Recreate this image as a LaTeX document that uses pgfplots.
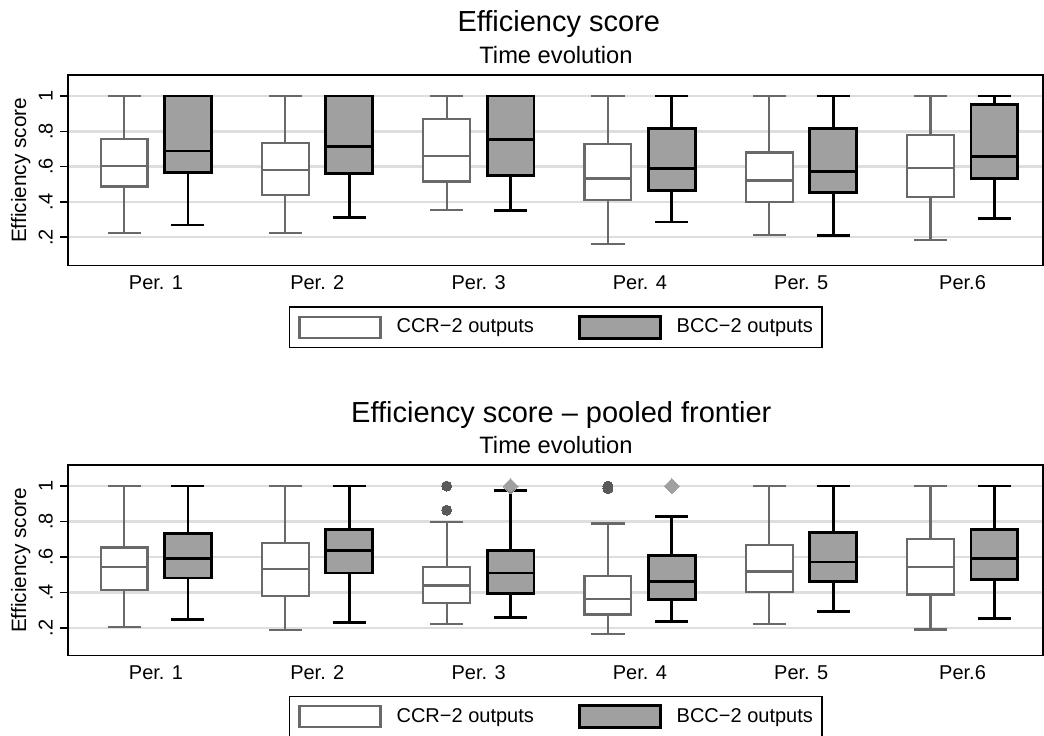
\documentclass[border=0pt]{standalone}
\usepackage{fontspec}
\setmainfont{Liberation Sans}
\usepackage{pgfplots}
\pgfplotsset{compat=1.18}
\usepgfplotslibrary{statistics}
\definecolor{ccrline}{RGB}{105,105,105}
\definecolor{bccfill}{RGB}{160,160,160}
\definecolor{gridc}{RGB}{222,222,222}
\definecolor{outc}{RGB}{90,90,90}
\pgfplotsset{
 effaxis/.style={
  scale only axis, width=487.35pt, height=95.25pt,
  xmin=0.4563, xmax=6.499, ymin=0.04, ymax=1.119,
  xtick={1,2,3,4,5,6}, xticklabels={Per. 1,Per. 2,Per. 3,Per. 4,Per. 5,Per.6},
  ytick={0.2,0.4,0.6,0.8,1}, yticklabels={.2,.4,.6,.8,1},
  xtick style={draw=none},
  ytick style={black, line width=0.8pt}, tick align=outside, major tick length=4pt,
  ymajorgrids, grid style={gridc, line width=1.2pt},
  axis line style={line width=0.9pt},
  tick label style={font=\fontsize{10}{12}\selectfont},
  xticklabel style={anchor=base, yshift=-7.8pt},
  yticklabel style={rotate=90, anchor=south, inner ysep=3.6pt, inner xsep=0pt},
  ylabel={Efficiency score},
  ylabel style={at={(axis description cs:-0.0434,0.5)}, anchor=base, font=\fontsize{10.4}{12}\selectfont},
  boxplot/draw direction=y,
  legend columns=2,
  legend style={anchor=north, draw=black, line width=0.8pt, inner xsep=4.5pt, inner ysep=4pt,
    font=\fontsize{10}{12}\selectfont, nodes={inner sep=0pt},
    /tikz/every odd column/.append style={column sep=7.5pt},
    /tikz/every even column/.append style={column sep=22pt}},
  legend cell align=left,
 },
 ccr/.style={forget plot, draw=ccrline, line width=1.1pt, fill=white, solid, mark=*, mark size=2.5pt,
   mark options={fill=outc, draw=outc, line width=0pt}},
 bcc/.style={forget plot, draw=black, line width=1.4pt, fill=bccfill, solid, mark=square*, mark size=2.65pt,
   mark options={fill=bccfill, draw=bccfill, line width=0pt, rotate=45}},
 bx/.style={boxplot/box extend=0.29, boxplot/whisker extend=0.205},
}
\newcommand{\legimgs}{%
  \addlegendimage{legend image code/.code={\draw[draw=ccrline, line width=1.1pt, fill=white] (0pt,-5.4pt) rectangle (40.5pt,5.4pt);}}
  \addlegendentry{CCR−2 outputs}
  \addlegendimage{legend image code/.code={\draw[draw=black, line width=1.4pt, fill=bccfill] (0pt,-5.4pt) rectangle (40.5pt,5.4pt);}}
  \addlegendentry{BCC−2 outputs}}
\begin{document}
\begin{tikzpicture}
\path[use as bounding box] (0,0) rectangle (522pt,-367.5pt);
\node[anchor=base, font=\fontsize{14.5}{17}\selectfont] at (279.4pt,-15.85pt) {Efficiency score};
\node[anchor=base, font=\fontsize{11.85}{14}\selectfont] at (278pt,-31.65pt) {Time evolution};
\node[anchor=base, font=\fontsize{14.5}{17}\selectfont] at (280.65pt,-211.15pt) {Efficiency score – pooled frontier};
\node[anchor=base, font=\fontsize{11.85}{14}\selectfont] at (278pt,-226.65pt) {Time evolution};

\begin{axis}[effaxis, at={(34.15pt,-37.5pt)}, anchor=north west,
  legend style={at={(axis description cs:0.5,-0.2147)}}]
\addplot[ccr, bx, boxplot prepared={draw position=0.802, lower whisker=0.224, lower quartile=0.488, median=0.605, upper quartile=0.755, upper whisker=1.0}] coordinates {};
\addplot[bcc, bx, boxplot prepared={draw position=1.198, lower whisker=0.269, lower quartile=0.567, median=0.689, upper quartile=1.0, upper whisker=1.0}] coordinates {};
\addplot[ccr, bx, boxplot prepared={draw position=1.802, lower whisker=0.224, lower quartile=0.439, median=0.582, upper quartile=0.736, upper whisker=1.0}] coordinates {};
\addplot[bcc, bx, boxplot prepared={draw position=2.198, lower whisker=0.311, lower quartile=0.563, median=0.712, upper quartile=1.0, upper whisker=1.0}] coordinates {};
\addplot[ccr, bx, boxplot prepared={draw position=2.802, lower whisker=0.356, lower quartile=0.516, median=0.661, upper quartile=0.872, upper whisker=1.0}] coordinates {};
\addplot[bcc, bx, boxplot prepared={draw position=3.198, lower whisker=0.352, lower quartile=0.548, median=0.753, upper quartile=1.0, upper whisker=1.0}] coordinates {};
\addplot[ccr, bx, boxplot prepared={draw position=3.802, lower whisker=0.164, lower quartile=0.411, median=0.533, upper quartile=0.729, upper whisker=1.0}] coordinates {};
\addplot[bcc, bx, boxplot prepared={draw position=4.198, lower whisker=0.286, lower quartile=0.465, median=0.588, upper quartile=0.814, upper whisker=1.0}] coordinates {};
\addplot[ccr, bx, boxplot prepared={draw position=4.802, lower whisker=0.215, lower quartile=0.401, median=0.522, upper quartile=0.680, upper whisker=1.0}] coordinates {};
\addplot[bcc, bx, boxplot prepared={draw position=5.198, lower whisker=0.209, lower quartile=0.454, median=0.572, upper quartile=0.815, upper whisker=1.0}] coordinates {};
\addplot[ccr, bx, boxplot prepared={draw position=5.802, lower whisker=0.186, lower quartile=0.429, median=0.591, upper quartile=0.780, upper whisker=1.0}] coordinates {};
\addplot[bcc, bx, boxplot prepared={draw position=6.198, lower whisker=0.307, lower quartile=0.533, median=0.657, upper quartile=0.951, upper whisker=1.0}] coordinates {};
\legimgs
\end{axis}

\begin{axis}[effaxis, at={(34.15pt,-232.5pt)}, anchor=north west, ymin=0.043,
  legend style={at={(axis description cs:0.5,-0.21)}}]
\addplot[ccr, bx, boxplot prepared={draw position=0.802, lower whisker=0.203, lower quartile=0.415, median=0.545, upper quartile=0.653, upper whisker=1.0}] coordinates {};
\addplot[bcc, bx, boxplot prepared={draw position=1.198, lower whisker=0.245, lower quartile=0.481, median=0.592, upper quartile=0.734, upper whisker=1.0}] coordinates {};
\addplot[ccr, bx, boxplot prepared={draw position=1.802, lower whisker=0.185, lower quartile=0.381, median=0.532, upper quartile=0.679, upper whisker=1.0}] coordinates {};
\addplot[bcc, bx, boxplot prepared={draw position=2.198, lower whisker=0.230, lower quartile=0.509, median=0.636, upper quartile=0.753, upper whisker=1.0}] coordinates {};
\addplot[ccr, bx, boxplot prepared={draw position=2.802, lower whisker=0.219, lower quartile=0.339, median=0.439, upper quartile=0.543, upper whisker=0.796}] table[row sep=\\, y index=0] {data\\ 1.0\\ 0.864\\};
\addplot[bcc, bx, boxplot prepared={draw position=3.198, lower whisker=0.257, lower quartile=0.392, median=0.509, upper quartile=0.636, upper whisker=0.976}] table[row sep=\\, y index=0] {data\\ 1.0\\};
\addplot[ccr, bx, boxplot prepared={draw position=3.802, lower whisker=0.166, lower quartile=0.275, median=0.364, upper quartile=0.490, upper whisker=0.789}] table[row sep=\\, y index=0] {data\\ 1.0\\ 0.985\\};
\addplot[bcc, bx, boxplot prepared={draw position=4.198, lower whisker=0.237, lower quartile=0.358, median=0.462, upper quartile=0.608, upper whisker=0.828}] table[row sep=\\, y index=0] {data\\ 1.0\\};
\addplot[ccr, bx, boxplot prepared={draw position=4.802, lower whisker=0.219, lower quartile=0.400, median=0.517, upper quartile=0.666, upper whisker=1.0}] coordinates {};
\addplot[bcc, bx, boxplot prepared={draw position=5.198, lower whisker=0.292, lower quartile=0.462, median=0.571, upper quartile=0.738, upper whisker=1.0}] coordinates {};
\addplot[ccr, bx, boxplot prepared={draw position=5.802, lower whisker=0.190, lower quartile=0.388, median=0.543, upper quartile=0.700, upper whisker=1.0}] coordinates {};
\addplot[bcc, bx, boxplot prepared={draw position=6.198, lower whisker=0.254, lower quartile=0.473, median=0.592, upper quartile=0.755, upper whisker=1.0}] coordinates {};
\legimgs
\end{axis}
\end{tikzpicture}
\end{document}
